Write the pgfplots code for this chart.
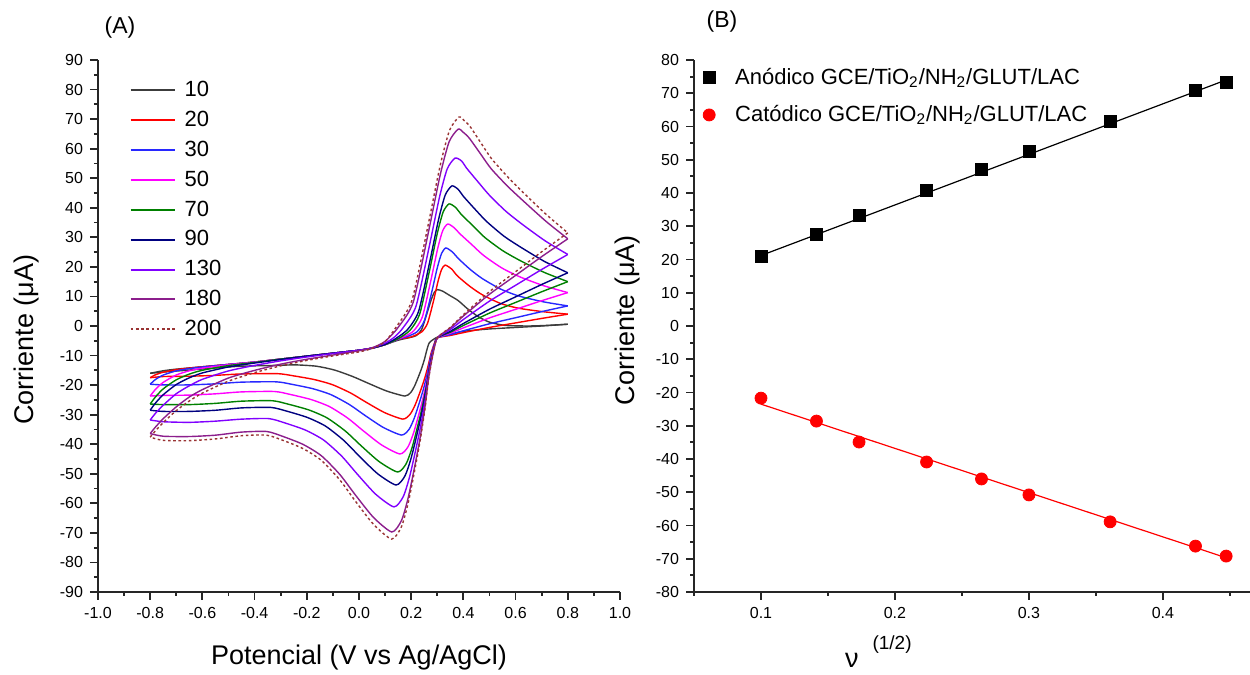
\documentclass[border=0pt]{standalone}
\usepackage{fontspec}
\setmainfont{Liberation Sans}
\usepackage{pgfplots}
\pgfplotsset{compat=1.18}
\definecolor{c10}{RGB}{60,60,60}
\definecolor{c20}{RGB}{255,0,0}
\definecolor{c30}{RGB}{40,40,255}
\definecolor{c50}{RGB}{255,0,255}
\definecolor{c70}{RGB}{0,128,0}
\definecolor{c90}{RGB}{0,0,128}
\definecolor{c130}{RGB}{128,0,255}
\definecolor{c180}{RGB}{140,30,140}
\definecolor{c200}{RGB}{153,51,51}
\begin{document}
\begin{tikzpicture}
\useasboundingbox (0,0) rectangle (625pt,337.5pt);
\pgfplotsset{
  panel/.style={
    scale only axis,
    axis x line*=bottom, axis y line*=left,
    axis line style={line width=0.9pt, black!85},
    tick style={line width=0.9pt, black!85},
    tick align=outside,
    major tick length=4pt, minor tick length=2pt,
    ticklabel style={font=\fontsize{8}{9.6}\selectfont},
    /pgf/number format/assume math mode=true,
    label style={font=\fontsize{13.5}{16}\selectfont},
  },
  cv/.style={line width=0.7pt, smooth, tension=0.4},
}
% ---------------- Panel A ----------------
\begin{axis}[panel,
  at={(49pt,41.5pt)}, anchor=south west,
  width=261pt, height=266pt,
  xmin=-1, xmax=1, ymin=-90, ymax=90,
  xtick={-1,-0.8,-0.6,-0.4,-0.2,0,0.2,0.4,0.6,0.8,1},
  minor xtick={-0.9,-0.7,-0.5,-0.3,-0.1,0.1,0.3,0.5,0.7,0.9},
  ytick={-90,-80,-70,-60,-50,-40,-30,-20,-10,0,10,20,30,40,50,60,70,80,90},
  minor ytick={-85,-75,-65,-55,-45,-35,-25,-15,-5,5,15,25,35,45,55,65,75,85},
  xticklabel style={/pgf/number format/.cd, fixed, fixed zerofill, precision=1},
  xlabel={Potencial (V vs Ag/AgCl)},
  ylabel={Corriente (μA)},
  xlabel style={at={(axis description cs:0.5,-0.124)}, anchor=center},
  ylabel style={at={(axis description cs:-0.136,0.474)}, anchor=center},
  legend style={draw=none, fill=none, at={(axis cs:-0.88,84.3)}, anchor=north west,
    font=\fontsize{11}{13}\selectfont, row sep=1.75pt, inner sep=0pt},
  legend cell align=left,
  legend image code/.code={\draw[#1, line width=1pt] (0pt,0pt) -- (22pt,0pt); \path[draw=none] (0pt,0pt) -- (25pt,0pt);},
]
% 10
\addplot[c10, cv] coordinates {(-0.8,-16.0) (-0.75,-15.15) (-0.7,-14.6) (-0.6,-13.8) (-0.5,-13.0) (-0.4,-12.2) (-0.3,-11.2) (-0.2,-10.2) (-0.1,-9.2) (0,-8.2) (0.05,-7.5) (0.1,-6.3) (0.15,-4.8) (0.2,-3.8) (0.22,-3.2) (0.24,-1.2) (0.26,4.15) (0.276,8.7) (0.288,11.3) (0.30,12.3) (0.32,11.8) (0.35,10.2) (0.38,8.6) (0.42,5.5) (0.46,3.0) (0.5,1.3) (0.56,0.2) (0.65,0.0) (0.72,0.2) (0.8,0.6)};
\addlegendentry{10}
\addplot[c10, cv, forget plot] coordinates {(0.8,0.6) (0.7,0.0) (0.6,-0.5) (0.5,-1.0) (0.4,-1.8) (0.35,-2.8) (0.30,-3.8) (0.2703,-5.58) (0.2605,-7.94) (0.252,-10.9) (0.241,-14.05) (0.2293,-16.8) (0.2137,-20.15) (0.1981,-22.52) (0.176,-23.7) (0.106,-22.0) (0.036,-19.4) (-0.024,-17.1) (-0.094,-14.9) (-0.164,-13.6) (-0.244,-13.15) (-0.304,-13.3) (-0.45,-13.6) (-0.55,-14.2) (-0.65,-14.9) (-0.75,-15.6) (-0.8,-16.0)};
% 20
\addplot[c20, cv] coordinates {(-0.8,-17.5) (-0.78,-16.52) (-0.75,-15.63) (-0.7,-14.76) (-0.65,-14.24) (-0.6,-13.8) (-0.5,-13.0) (-0.4,-12.2) (-0.3,-11.2) (-0.2,-10.2) (-0.1,-9.2) (0,-8.2) (0.05,-7.5) (0.1,-6.3) (0.15,-4.5) (0.2,-3.7) (0.24,-2.0) (0.2625,0.9) (0.285,8.3) (0.303,15.19) (0.3165,19.12) (0.33,20.6) (0.355,19.27) (0.377,16.95) (0.424,13.46) (0.471,10.64) (0.5415,7.65) (0.612,6.0) (0.706,4.83) (0.8,4.0)};
\addlegendentry{20}
\addplot[c20, cv, forget plot] coordinates {(0.8,4.0) (0.7,2.56) (0.6,1.04) (0.5,-0.48) (0.4,-2.24) (0.35,-3.2) (0.30,-4.0) (0.2876,-6.2) (0.2753,-9.5) (0.2645,-13.63) (0.2505,-18.03) (0.2357,-21.88) (0.2159,-26.55) (0.196,-29.85) (0.168,-31.5) (0.098,-29.3) (0.028,-25.83) (-0.032,-22.68) (-0.102,-19.85) (-0.172,-18.11) (-0.252,-16.85) (-0.312,-16.13) (-0.45,-16.22) (-0.55,-16.7) (-0.65,-17.0) (-0.75,-17.1) (-0.8,-17.5)};
% 30
\addplot[c30, cv] coordinates {(-0.8,-19.7) (-0.78,-18.11) (-0.75,-16.6) (-0.7,-15.17) (-0.65,-14.41) (-0.6,-13.88) (-0.5,-13.0) (-0.4,-12.2) (-0.3,-11.2) (-0.2,-10.2) (-0.1,-9.2) (0,-8.2) (0.05,-7.5) (0.1,-6.3) (0.15,-4.5) (0.19,-3.4) (0.223,-1.9) (0.2505,1.8) (0.278,11.2) (0.3,19.71) (0.3165,24.58) (0.333,26.4) (0.358,25.03) (0.380,22.87) (0.426,19.15) (0.473,16.01) (0.543,12.48) (0.613,10.13) (0.707,8.17) (0.8,6.8)};
\addlegendentry{30}
\addplot[c30, cv, forget plot] coordinates {(0.8,6.8) (0.7,4.86) (0.6,2.8) (0.5,0.75) (0.4,-1.62) (0.35,-2.92) (0.30,-4.0) (0.2871,-6.63) (0.2743,-10.58) (0.2632,-15.52) (0.2486,-20.78) (0.2332,-25.39) (0.2126,-30.98) (0.1921,-34.93) (0.163,-36.9) (0.093,-34.32) (0.023,-30.26) (-0.037,-26.57) (-0.107,-23.25) (-0.177,-21.22) (-0.257,-19.74) (-0.317,-18.89) (-0.45,-19.0) (-0.55,-19.56) (-0.65,-19.93) (-0.75,-19.93) (-0.8,-19.7)};
% 50
\addplot[c50, cv] coordinates {(-0.8,-23.7) (-0.78,-21.45) (-0.75,-19.07) (-0.7,-16.57) (-0.65,-15.16) (-0.6,-14.27) (-0.5,-13.11) (-0.4,-12.2) (-0.3,-11.2) (-0.2,-10.2) (-0.1,-9.2) (0,-8.2) (0.05,-7.5) (0.1,-6.3) (0.15,-4.4) (0.18,-3.3) (0.21,-1.6) (0.2425,3.0) (0.275,15.25) (0.301,26.03) (0.3205,32.19) (0.34,34.5) (0.365,33.22) (0.386,31.25) (0.432,27.54) (0.478,23.83) (0.547,19.65) (0.616,16.64) (0.708,13.62) (0.8,11.3)};
\addlegendentry{50}
\addplot[c50, cv, forget plot] coordinates {(0.8,11.3) (0.7,8.55) (0.6,5.64) (0.5,2.73) (0.4,-0.63) (0.35,-2.47) (0.30,-4.0) (0.2866,-7.14) (0.2732,-11.86) (0.2616,-17.76) (0.2464,-24.04) (0.2303,-29.55) (0.2089,-36.23) (0.1874,-40.94) (0.157,-43.3) (0.087,-40.27) (0.017,-35.51) (-0.043,-31.18) (-0.113,-27.28) (-0.183,-24.9) (-0.263,-23.17) (-0.323,-22.17) (-0.45,-22.3) (-0.55,-22.95) (-0.65,-23.38) (-0.75,-23.5) (-0.8,-23.7)};
% 70
\addplot[c70, cv] coordinates {(-0.8,-26.4) (-0.78,-24.02) (-0.75,-21.26) (-0.7,-18.2) (-0.65,-16.27) (-0.6,-14.98) (-0.5,-13.39) (-0.4,-12.33) (-0.3,-11.2) (-0.2,-10.2) (-0.1,-9.2) (0,-8.2) (0.05,-7.5) (0.1,-6.3) (0.15,-4.3) (0.195,-1.5) (0.2325,4.0) (0.27,18.65) (0.3,31.33) (0.3225,38.58) (0.345,41.3) (0.37,40.12) (0.3905,37.88) (0.436,33.94) (0.4815,29.99) (0.55,25.52) (0.618,22.1) (0.709,18.16) (0.8,15.0)};
\addlegendentry{70}
\addplot[c70, cv, forget plot] coordinates {(0.8,15.0) (0.7,11.58) (0.6,7.97) (0.5,4.36) (0.4,0.18) (0.35,-2.1) (0.30,-4.0) (0.2858,-7.63) (0.2715,-13.08) (0.2592,-19.89) (0.243,-27.15) (0.2259,-33.51) (0.2031,-41.23) (0.1803,-46.68) (0.148,-49.4) (0.078,-45.94) (0.008,-40.51) (-0.052,-35.57) (-0.122,-31.12) (-0.192,-28.41) (-0.272,-26.43) (-0.332,-25.29) (-0.45,-25.44) (-0.55,-26.18) (-0.65,-26.6) (-0.75,-26.6) (-0.8,-26.4)};
% 90
\addplot[c90, cv] coordinates {(-0.8,-28.5) (-0.78,-26.09) (-0.75,-23.24) (-0.7,-19.8) (-0.65,-17.53) (-0.6,-15.88) (-0.5,-13.85) (-0.4,-12.54) (-0.3,-11.34) (-0.2,-10.2) (-0.1,-9.2) (0,-8.2) (0.05,-7.5) (0.1,-6.2) (0.14,-4.3) (0.186,-1.2) (0.2285,5.0) (0.271,21.7) (0.305,36.09) (0.3305,44.32) (0.356,47.4) (0.38,46.22) (0.400,43.87) (0.445,39.46) (0.489,35.35) (0.556,30.35) (0.622,26.53) (0.711,21.82) (0.8,18.0)};
\addlegendentry{90}
\addplot[c90, cv, forget plot] coordinates {(0.8,18.0) (0.7,14.04) (0.6,9.86) (0.5,5.68) (0.4,0.84) (0.35,-1.8) (0.30,-4.0) (0.2853,-7.98) (0.2704,-13.96) (0.2576,-21.43) (0.2408,-29.4) (0.223,-36.37) (0.1993,-44.84) (0.1756,-50.81) (0.142,-53.8) (0.072,-50.03) (0.002,-44.12) (-0.058,-38.74) (-0.128,-33.89) (-0.198,-30.94) (-0.278,-28.78) (-0.338,-27.55) (-0.45,-27.71) (-0.55,-28.51) (-0.65,-28.9) (-0.75,-28.9) (-0.8,-28.5)};
% 130
\addplot[c130, cv] coordinates {(-0.8,-31.8) (-0.78,-29.56) (-0.75,-26.79) (-0.7,-22.91) (-0.65,-20.23) (-0.6,-18.04) (-0.5,-15.2) (-0.4,-13.34) (-0.3,-11.79) (-0.2,-10.49) (-0.1,-9.3) (0,-8.2) (0.05,-7.4) (0.1,-5.8) (0.135,-3.8) (0.168,-0.7) (0.218,6.6) (0.268,26.4) (0.308,43.42) (0.338,53.15) (0.368,56.8) (0.393,55.82) (0.411,53.54) (0.454,48.98) (0.498,44.41) (0.562,38.87) (0.627,34.31) (0.714,28.76) (0.8,24.2)};
\addlegendentry{130}
\addplot[c130, cv, forget plot] coordinates {(0.8,24.2) (0.7,19.12) (0.6,13.77) (0.5,8.41) (0.4,2.2) (0.35,-1.18) (0.30,-4.0) (0.2845,-8.58) (0.2689,-15.44) (0.2554,-24.02) (0.2378,-33.17) (0.2191,-41.18) (0.1942,-50.9) (0.1693,-57.77) (0.134,-61.2) (0.064,-56.92) (-0.006,-50.18) (-0.066,-44.06) (-0.136,-38.56) (-0.206,-35.19) (-0.286,-32.74) (-0.346,-31.33) (-0.45,-31.52) (-0.55,-32.2) (-0.65,-32.6) (-0.75,-32.4) (-0.8,-31.8)};
% 180
\addplot[c180, cv] coordinates {(-0.8,-36.4) (-0.78,-34.21) (-0.75,-31.35) (-0.7,-27.35) (-0.65,-24.02) (-0.6,-21.53) (-0.5,-17.6) (-0.4,-15.02) (-0.3,-12.91) (-0.2,-11.25) (-0.1,-9.83) (0,-8.4) (0.05,-7.4) (0.1,-5.2) (0.15,-0.47) (0.2075,8.0) (0.265,31.3) (0.311,51.07) (0.3455,62.36) (0.38,66.6) (0.40,65.49) (0.422,63.63) (0.464,58.44) (0.506,53.24) (0.569,47.31) (0.632,42.11) (0.716,35.44) (0.8,29.5)};
\addlegendentry{180}
\addplot[c180, cv, forget plot] coordinates {(0.8,29.5) (0.7,23.47) (0.6,17.11) (0.5,10.74) (0.4,3.37) (0.35,-0.65) (0.30,-4.0) (0.2838,-9.26) (0.2674,-17.14) (0.2533,-27.0) (0.2348,-37.51) (0.2152,-46.71) (0.1891,-57.87) (0.163,-65.76) (0.126,-69.7) (0.056,-64.82) (-0.014,-57.15) (-0.074,-50.18) (-0.144,-43.91) (-0.214,-40.08) (-0.294,-37.29) (-0.354,-35.69) (-0.45,-35.9) (-0.55,-36.94) (-0.65,-37.4) (-0.75,-37.3) (-0.8,-36.4)};
% 200
\addplot[c200, cv, dash pattern=on 1.3pt off 1.3pt] coordinates {(-0.8,-37.6) (-0.78,-35.48) (-0.75,-32.66) (-0.7,-28.63) (-0.65,-25.36) (-0.6,-22.71) (-0.5,-18.66) (-0.4,-15.78) (-0.3,-13.48) (-0.2,-11.64) (-0.1,-10.12) (0,-8.77) (0.05,-7.6) (0.1,-5.3) (0.143,-0.27) (0.203,8.7) (0.263,33.35) (0.311,54.27) (0.347,66.22) (0.383,70.7) (0.403,69.52) (0.425,67.56) (0.466,62.08) (0.508,56.59) (0.571,50.32) (0.633,44.83) (0.717,37.77) (0.8,31.5)};
\addlegendentry{200}
\addplot[c200, cv, dash pattern=on 1.3pt off 1.3pt, forget plot] coordinates {(0.8,31.5) (0.7,25.11) (0.6,18.37) (0.5,11.62) (0.4,3.81) (0.35,-0.45) (0.30,-4.0) (0.2836,-9.45) (0.2672,-17.62) (0.253,-27.84) (0.2344,-38.73) (0.2147,-48.27) (0.1885,-59.84) (0.1622,-68.01) (0.125,-72.1) (0.055,-67.05) (-0.015,-59.12) (-0.075,-51.91) (-0.145,-45.42) (-0.215,-41.46) (-0.295,-38.57) (-0.355,-36.92) (-0.45,-37.13) (-0.55,-38.21) (-0.65,-38.8) (-0.75,-38.7) (-0.8,-37.6)};
\end{axis}
% ---------------- Panel B ----------------
\begin{axis}[panel,
  at={(347pt,41.5pt)}, anchor=south west,
  width=278pt, height=266pt,
  xmin=0.05, xmax=0.465, ymin=-80, ymax=80,
  xtick={0.1,0.2,0.3,0.4},
  minor xtick={0.05,0.15,0.25,0.35,0.45},
  ytick={-80,-70,-60,-50,-40,-30,-20,-10,0,10,20,30,40,50,60,70,80},
  minor ytick={-75,-65,-55,-45,-35,-25,-15,-5,5,15,25,35,45,55,65,75},
  xlabel={ν\hspace{7pt}\raisebox{9pt}{\fontsize{9.5}{10}\selectfont (1/2)}},
  ylabel={Corriente (μA)},
  xlabel style={at={(axis description cs:0.259,-0.142)}, anchor=base west},
  ylabel style={at={(axis description cs:-0.119,0.511)}, anchor=center},
  legend style={draw=none, fill=none, at={(axis description cs:0.005,0.993)}, anchor=north west,
    font=\fontsize{11}{13}\selectfont, row sep=5pt, inner sep=0pt},
  legend cell align=left,
  legend image code/.code={\path[draw=none] (0pt,0pt) -- (17pt,0pt); \draw[#1] plot coordinates {(6pt,0pt)};},
]
\addplot[only marks, mark=square*, mark size=3pt, black] coordinates {(0.1,20.8) (0.1414,27.6) (0.1732,33.4) (0.2236,40.9) (0.2646,47.2) (0.3,52.6) (0.3606,61.6) (0.4243,71.0) (0.4472,73.4)};
\addlegendentry{Anódico GCE/TiO\textsubscript{2}/NH\textsubscript{2}/GLUT/LAC}
\addplot[only marks, mark=*, mark size=3pt, red] coordinates {(0.1,-21.7) (0.1414,-28.6) (0.1732,-34.9) (0.2236,-40.9) (0.2646,-46.0) (0.3,-50.8) (0.3606,-58.9) (0.4243,-66.2) (0.4472,-69.2)};
\addlegendentry{Catódico GCE/TiO\textsubscript{2}/NH\textsubscript{2}/GLUT/LAC}
\addplot[black, line width=0.6pt, forget plot] coordinates {(0.1,21.2) (0.4472,74.0)};
\addplot[red, line width=0.6pt, forget plot] coordinates {(0.1,-23.5) (0.4472,-69.7)};
\end{axis}
\node at (60pt,323.5pt) {\fontsize{11.5}{13}\selectfont (A)};
\node at (361pt,326.5pt) {\fontsize{11.5}{13}\selectfont (B)};
\end{tikzpicture}
\end{document}
